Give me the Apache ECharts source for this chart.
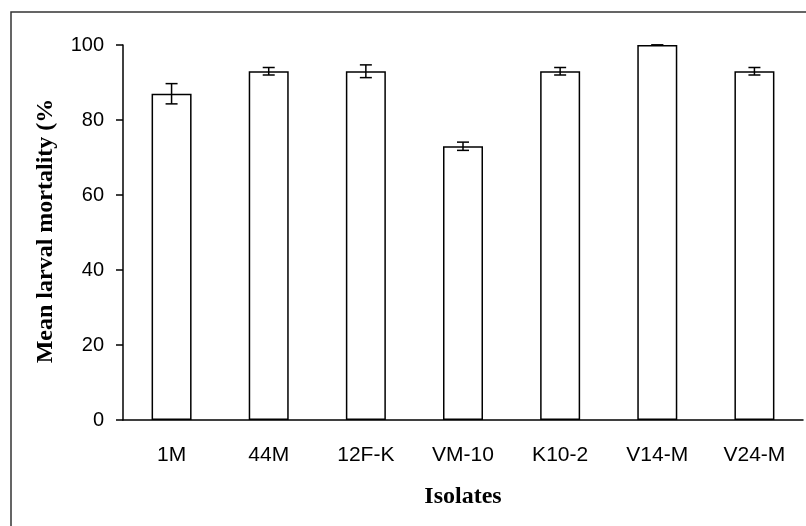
<!DOCTYPE html>
<html>
    <head>
        <meta charset="utf-8">
        <title>Mean larval mortality</title>
        <script src="https://cdn.jsdelivr.net/npm/echarts@6/dist/echarts.min.js"></script>
        <style>
            html, body { margin: 0; padding: 0; background: #fff; }
        </style>
    </head>
    <body>
        <div id="main" style="width:806px;height:526px;"></div>
        <script type="text/javascript">
            // data
            var isolates = ['1M', '44M', '12F-K', 'VM-10', 'K10-2', 'V14-M', 'V24-M'];
            var mortality = [87, 93, 93, 73, 93, 100, 93];
            var errors = [2.7, 1.0, 1.7, 1.1, 1.0, 0, 1.0];
            var yTicks = [0, 20, 40, 60, 80, 100];

            var errData = [];
            for (var i = 0; i < isolates.length; i++) {
                errData.push([i, mortality[i] - errors[i], mortality[i] + errors[i]]);
            }

            var myChart = echarts.init(document.getElementById('main'));
            var option = {
                animation: false,
                backgroundColor: '#fff',
                grid: { left: 123, top: 45, right: 3, bottom: 106 },
                graphic: [{
                    type: 'rect',
                    shape: { x: 11, y: 12, width: 900, height: 600 },
                    style: { fill: 'none', stroke: '#333', lineWidth: 1.5 }
                }, {
                    type: 'text',
                    x: 46, y: 231,
                    rotation: Math.PI / 2,
                    style: {
                        text: 'Mean larval mortality (%',
                        font: 'bold 24px "Liberation Serif", "Times New Roman", serif',
                        fill: '#000',
                        textAlign: 'center',
                        textVerticalAlign: 'middle'
                    }
                }],
                xAxis: {
                    type: 'category',
                    data: isolates,
                    name: 'Isolates',
                    nameLocation: 'middle',
                    nameGap: 65,
                    nameTextStyle: {
                        fontFamily: '"Liberation Serif", "Times New Roman", serif',
                        fontWeight: 'bold', fontSize: 24, color: '#000'
                    },
                    axisLine: { lineStyle: { color: '#000', width: 1.5 } },
                    axisTick: { length: 7, lineStyle: { color: '#000', width: 1.5 } },
                    axisLabel: {
                        margin: 25,
                        fontFamily: '"Liberation Sans", Arial, sans-serif',
                        fontSize: 21, color: '#000'
                    }
                },
                yAxis: {
                    type: 'value',
                    min: yTicks[0],
                    max: yTicks[yTicks.length - 1],
                    interval: 20,
                    splitLine: { show: false },
                    axisLine: { show: true, lineStyle: { color: '#000', width: 1.5 } },
                    axisTick: { show: true, length: 7, lineStyle: { color: '#000', width: 1.5 } },
                    axisLabel: {
                        margin: 19,
                        fontFamily: '"Liberation Sans", Arial, sans-serif',
                        fontSize: 20, color: '#000'
                    }
                },
                series: [{
                    type: 'bar',
                    data: mortality,
                    barWidth: 40,
                    itemStyle: { color: '#fff', borderColor: '#000', borderWidth: 1.5 }
                }, {
                    type: 'custom',
                    data: errData,
                    z: 10,
                    renderItem: function (params, api) {
                        var x = api.value(0);
                        var lo = api.coord([x, api.value(1)]);
                        var hi = api.coord([x, api.value(2)]);
                        var hw = 6;
                        var st = { stroke: '#000', lineWidth: 1.5 };
                        return {
                            type: 'group',
                            children: [
                                { type: 'line', shape: { x1: lo[0], y1: lo[1], x2: hi[0], y2: hi[1] }, style: st },
                                { type: 'line', shape: { x1: hi[0] - hw, y1: hi[1], x2: hi[0] + hw, y2: hi[1] }, style: st },
                                { type: 'line', shape: { x1: lo[0] - hw, y1: lo[1], x2: lo[0] + hw, y2: lo[1] }, style: st }
                            ]
                        };
                    }
                }]
            };
            myChart.setOption(option);
        </script>
    </body>
</html>
